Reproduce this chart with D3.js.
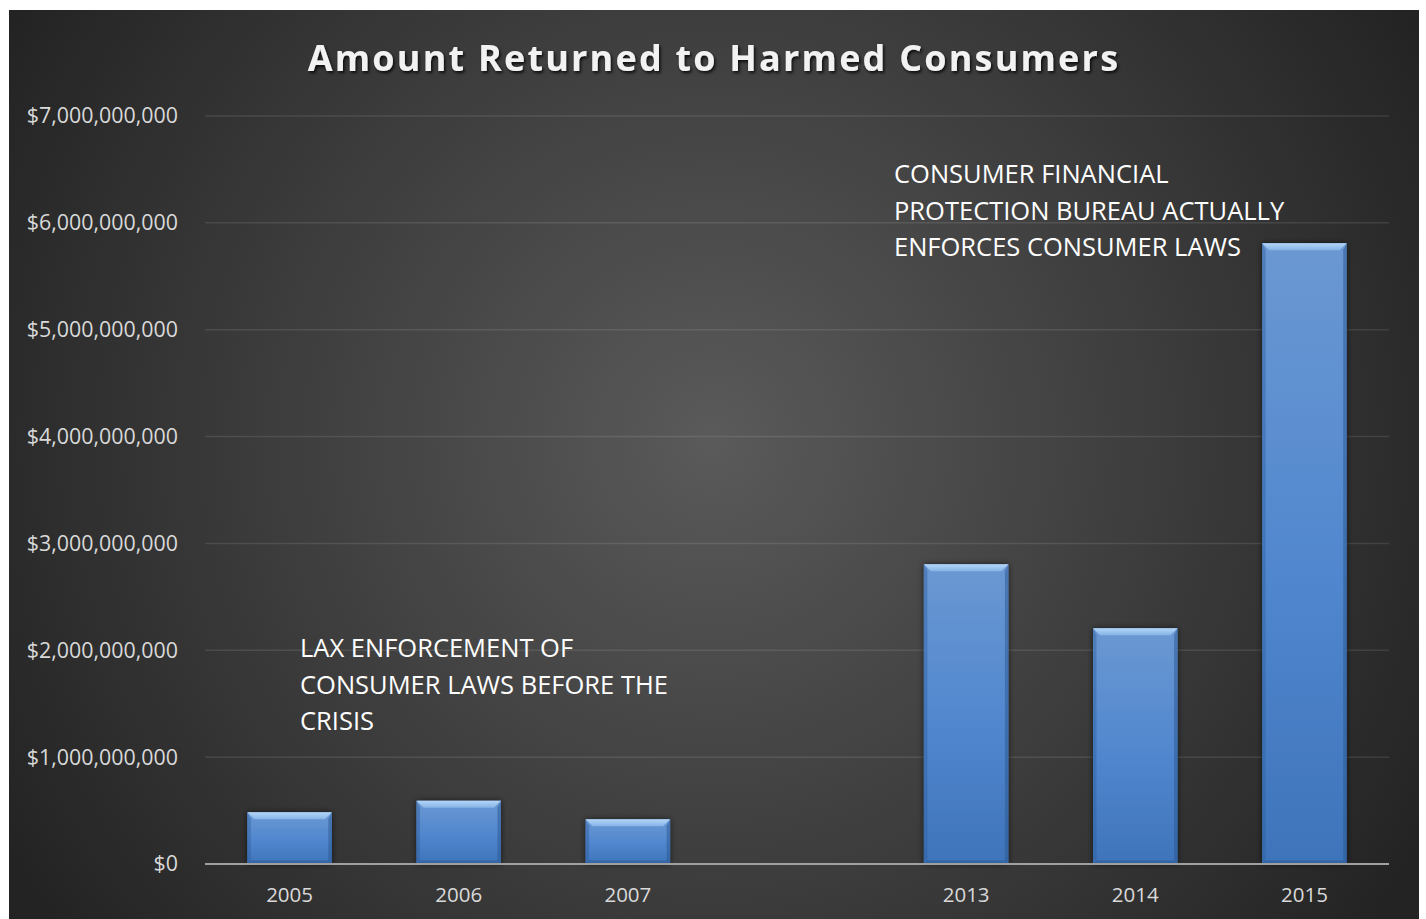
<!DOCTYPE html>
<html>
<head>
<meta charset="utf-8">
<script src="https://cdn.jsdelivr.net/npm/d3@7"></script>
<style>
  body { margin: 0; background: #fff; }
  svg { display: block; }
  text { font-family: "Open Sans", sans-serif; }
</style>
</head>
<body>
<div id="chart"></div>
<script>
// years on the axis (one empty slot between 2007 and 2013)
var years = ["2005", "2006", "2007", "", "2013", "2014", "2015"];
// amount returned, dollars
var amounts = [484000000, 592000000, 418000000, null, 2805000000, 2206000000, 5810000000];
var yTicks = [0, 1e9, 2e9, 3e9, 4e9, 5e9, 6e9, 7e9];

var noteLeft = ["LAX ENFORCEMENT OF", "CONSUMER LAWS BEFORE THE", "CRISIS"];
var noteRight = ["CONSUMER FINANCIAL", "PROTECTION BUREAU ACTUALLY", "ENFORCES CONSUMER LAWS"];

var W = 1426, H = 919;
var margin = {top: 116, right: 37, bottom: 55, left: 205};
var width = W - margin.left - margin.right;
var height = H - margin.top - margin.bottom;

var svg = d3.select("#chart").append("svg")
    .attr("width", W)
    .attr("height", H);

var defs = svg.append("defs");

var bg = defs.append("radialGradient")
    .attr("id", "bg")
    .attr("gradientUnits", "userSpaceOnUse")
    .attr("cx", 713).attr("cy", 440).attr("r", 820);
bg.append("stop").attr("offset", "0").attr("stop-color", "#5a5a5a");
bg.append("stop").attr("offset", "0.55").attr("stop-color", "#3c3c3c");
bg.append("stop").attr("offset", "1").attr("stop-color", "#232323");

var barFill = defs.append("linearGradient")
    .attr("id", "barFill")
    .attr("x1", 0).attr("y1", 0).attr("x2", 0).attr("y2", 1);
barFill.append("stop").attr("offset", "0").attr("stop-color", "#6b98d2");
barFill.append("stop").attr("offset", "0.5").attr("stop-color", "#5288cf");
barFill.append("stop").attr("offset", "1").attr("stop-color", "#3e74ba");

var topBevel = defs.append("linearGradient")
    .attr("id", "topBevel")
    .attr("x1", 0).attr("y1", 0).attr("x2", 0).attr("y2", 1);
topBevel.append("stop").attr("offset", "0").attr("stop-color", "#b4d6f7");
topBevel.append("stop").attr("offset", "1").attr("stop-color", "#86b3e6");

var shadow = defs.append("filter").attr("id", "shadow")
    .attr("x", "-20%").attr("y", "-20%").attr("width", "140%").attr("height", "140%");
shadow.append("feDropShadow")
    .attr("dx", 0).attr("dy", 0).attr("stdDeviation", 3)
    .attr("flood-color", "#000").attr("flood-opacity", 0.6);

var titleShadow = defs.append("filter").attr("id", "titleShadow")
    .attr("x", "-5%").attr("y", "-30%").attr("width", "110%").attr("height", "160%");
titleShadow.append("feDropShadow")
    .attr("dx", 1.5).attr("dy", 2).attr("stdDeviation", 1.5)
    .attr("flood-color", "#000").attr("flood-opacity", 0.8);

// chart background
svg.append("rect")
    .attr("x", 9).attr("y", 10)
    .attr("width", 1410).attr("height", H - 10)
    .attr("fill", "url(#bg)");

svg.append("text")
    .attr("x", 714)
    .attr("y", 71)
    .attr("text-anchor", "middle")
    .attr("fill", "#f2f2f2")
    .attr("font-size", 36)
    .attr("font-weight", "bold")
    .attr("letter-spacing", 2.2)
    .attr("filter", "url(#titleShadow)")
    .text("Amount Returned to Harmed Consumers");

var g = svg.append("g")
    .attr("transform", "translate(" + margin.left + "," + margin.top + ")");

var x = d3.scaleBand()
    .domain(d3.range(years.length))
    .range([0, width])
    .paddingInner(0.5)
    .paddingOuter(0.25);

var y = d3.scaleLinear()
    .domain([0, 7e9])
    .range([height, 0]);

// gridlines
g.append("g")
    .selectAll("line")
    .data(yTicks.slice(1))
    .enter().append("line")
    .attr("x1", 0).attr("x2", width)
    .attr("y1", d => y(d)).attr("y2", d => y(d))
    .attr("stroke", "#ffffff")
    .attr("stroke-opacity", 0.1)
    .attr("stroke-width", 1.5);

var yAxis = d3.axisLeft(y)
    .tickValues(yTicks)
    .tickSize(0)
    .tickPadding(27)
    .tickFormat(d => "$" + d3.format(",")(d));

g.append("g")
    .call(yAxis)
    .call(s => s.select(".domain").remove())
    .selectAll("text")
    .attr("fill", "#d9d9d9")
    .attr("font-size", 21.4)
    .attr("font-family", "Open Sans, sans-serif");

var xAxis = d3.axisBottom(x)
    .tickSize(0)
    .tickPadding(23)
    .tickFormat(i => years[i]);

g.append("g")
    .attr("transform", "translate(0," + height + ")")
    .call(xAxis)
    .call(s => s.select(".domain").remove())
    .selectAll("text")
    .attr("fill", "#d9d9d9")
    .attr("font-size", 20.5)
    .attr("font-family", "Open Sans, sans-serif");

// bars with a bevel look
var barData = amounts.map((v, i) => ({i: i, v: v})).filter(d => d.v != null);

var bars = g.selectAll(".bar")
    .data(barData)
    .enter().append("g")
    .attr("class", "bar")
    .attr("transform", d => "translate(" + x(d.i) + "," + y(d.v) + ")");

var bw = x.bandwidth();
var bev = 7;

bars.append("rect")
    .attr("width", bw)
    .attr("height", d => height - y(d.v))
    .attr("fill", "url(#barFill)")
    .attr("filter", "url(#shadow)");

bars.append("polygon")
    .attr("points", d => [[0, 0], [bw, 0], [bw - bev, bev], [bev, bev]].join(" "))
    .attr("fill", "url(#topBevel)");

bars.append("polygon")
    .attr("points", d => {
        var h = height - y(d.v);
        return [[0, 0], [bev * 0.5, bev], [bev * 0.5, h - bev * 0.5], [0, h]].join(" ");
    })
    .attr("fill", "#2f5f9e")
    .attr("fill-opacity", 0.45);

bars.append("polygon")
    .attr("points", d => {
        var h = height - y(d.v);
        return [[bw, 0], [bw - bev * 0.5, bev], [bw - bev * 0.5, h - bev * 0.5], [bw, h]].join(" ");
    })
    .attr("fill", "#2a5590")
    .attr("fill-opacity", 0.5);

bars.append("polygon")
    .attr("points", d => {
        var h = height - y(d.v);
        return [[0, h], [bev * 0.5, h - bev * 0.5], [bw - bev * 0.5, h - bev * 0.5], [bw, h]].join(" ");
    })
    .attr("fill", "#2a5590")
    .attr("fill-opacity", 0.5);

// baseline
g.append("line")
    .attr("x1", 0).attr("x2", width)
    .attr("y1", height).attr("y2", height)
    .attr("stroke", "#a0a0a0")
    .attr("stroke-width", 2);

// annotations
function note(lines, x0, y0) {
    svg.append("g").selectAll("text")
        .data(lines)
        .enter().append("text")
        .attr("x", x0)
        .attr("y", (d, i) => y0 + i * 36.5)
        .attr("fill", "#ffffff")
        .attr("font-size", 25.5)
        .text(d => d);
}
note(noteLeft, 300, 657);
note(noteRight, 894, 183);
</script>
</body>
</html>
